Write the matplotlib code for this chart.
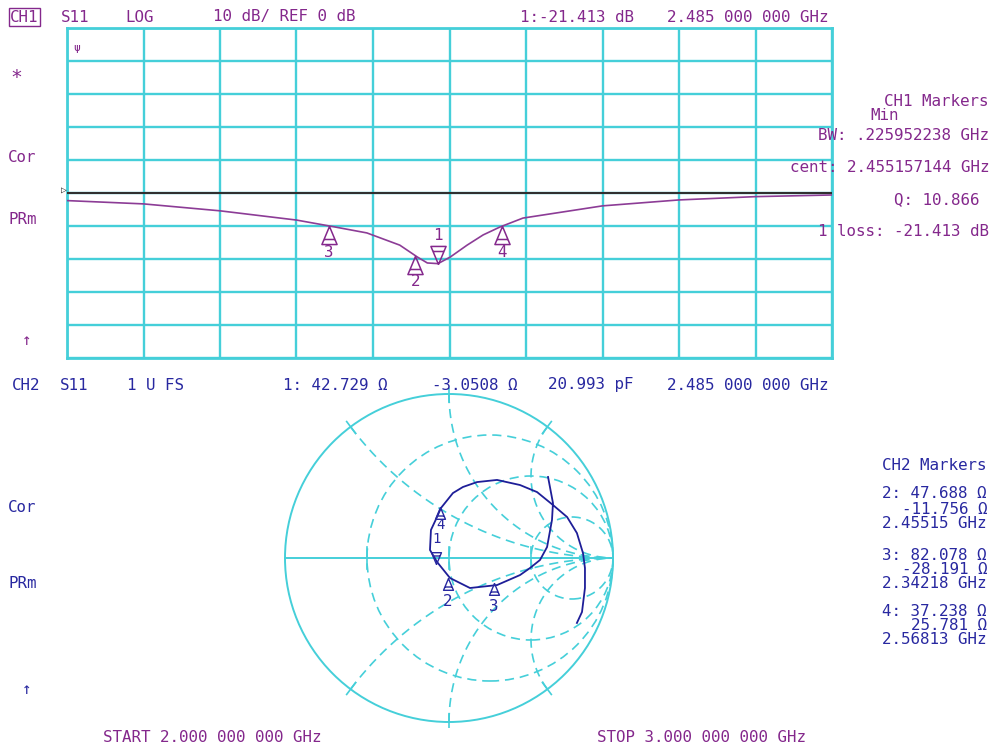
import numpy as np
import matplotlib
matplotlib.use("Agg")
import matplotlib.pyplot as plt
from matplotlib.path import Path
from matplotlib.patches import Circle

# ---- style tokens ----
CYAN, PURPLE, PTRACE, BLUE, NAVY, REF = "#45cfd9", "#84288c", "#8c3c96", "#2828a0", "#1e1e98", "#303030"
FONT = ["DejaVu Sans Mono", "DejaVu Sans"]
FS = 11.4
W, H = 993, 746

# ---- CH1: S11 log magnitude (GHz, dB) ----
freq = [2.0, 2.1, 2.2, 2.3, 2.348, 2.392, 2.435, 2.458, 2.471, 2.485, 2.501,
        2.523, 2.544, 2.566, 2.596, 2.7, 2.8, 2.9, 3.0]
s11_db = [-2.3, -3.3, -5.4, -8.2, -10.2, -12.1, -15.8, -19.4, -21.2, -21.4, -19.4,
          -15.8, -12.7, -10.3, -7.6, -3.9, -2.1, -1.1, -0.6]

# ---- markers (GHz, ohm readouts) ----
mk_id = ["1", "2", "3", "4"]
mk_freq = [2.485, 2.45515, 2.34218, 2.56813]
mk_r = [42.729, 47.688, 82.078, 37.238]
mk_x = [-3.0508, -11.756, -28.191, 25.781]

# ---- CH2: S11 Smith trace, reflection coefficient ----
g_re = [0.604, 0.634, 0.628, 0.598, 0.555, 0.494, 0.433, 0.293, 0.128, 0.006, -0.073,
        -0.116, -0.110, -0.073, -0.049, 0.024, 0.085, 0.171, 0.293, 0.433, 0.537,
        0.634, 0.720, 0.780, 0.817, 0.829, 0.829, 0.811, 0.780]
g_im = [0.494, 0.335, 0.232, 0.067, -0.012, -0.061, -0.104, -0.165, -0.183, -0.122, -0.024,
        0.049, 0.171, 0.250, 0.305, 0.396, 0.433, 0.463, 0.476, 0.445, 0.402,
        0.323, 0.250, 0.152, 0.030, -0.061, -0.183, -0.329, -0.396]

plt.rcParams["font.family"] = FONT
fig = plt.figure(figsize=(W / 100, H / 100), dpi=100)
fig.patch.set_facecolor("white")


def txt(x, y, s, color, ha="left", size=FS, **kw):
    fig.text(x / W, 1 - y / H, s, ha=ha, va="center", color=color, size=size, **kw)


def tri(up=True):
    v = [(0, 0), (-0.42, -1), (0.42, -1), (0, 0), (-0.3, -0.72), (0.3, -0.72)]
    if not up:
        v = [(a, -b) for a, b in v]
    c = [Path.MOVETO, Path.LINETO, Path.LINETO, Path.LINETO, Path.MOVETO, Path.LINETO]
    return Path(v, c)


# 1. log magnitude panel -------------------------------------------------------
ax1 = fig.add_axes([67 / W, 1 - 358 / H, 765 / W, 330 / H])
ax1.set_xlim(2, 3); ax1.set_ylim(-50, 50)
ax1.set_xticks(np.linspace(2, 3, 11)); ax1.set_yticks(np.arange(-50, 51, 10))
ax1.tick_params(length=0, labelbottom=False, labelleft=False)
ax1.grid(True, color=CYAN, lw=1.7)
for s in ax1.spines.values():
    s.set_color(CYAN); s.set_linewidth(2)
ax1.axhline(0, color=REF, lw=1.5, zorder=3)
ax1.plot(freq, s11_db, color=PTRACE, lw=1.2, zorder=4)
mk_db = [-21.413] + [float(np.interp(f, freq, s11_db)) for f in mk_freq[1:]]
for i, (f, d) in enumerate(zip(mk_freq, mk_db)):
    up = i != 0
    ax1.plot(f, d, marker=tri(up), ms=26, mfc="none", mec=PURPLE, mew=1.1, zorder=5)
    ax1.annotate(mk_id[i], (f, d), xytext=(0, -19 if up else 20), textcoords="offset points",
                 ha="center", va="center", color=PURPLE, size=FS)
ax1.text(2.012, 44, "ψ", color=PURPLE, size=8, ha="center", va="center")

# 2. Smith chart panel ---------------------------------------------------------
lim = 170 / 164
ax2 = fig.add_axes([279 / W, 1 - 728 / H, 340 / W, 340 / H])
ax2.set_xlim(-lim, lim); ax2.set_ylim(-lim, lim); ax2.axis("off")
ax2.add_patch(Circle((0, 0), 1, fill=False, ec=CYAN, lw=1.4))
ax2.plot([-1, 1], [0, 0], color=CYAN, lw=1.4)
dash = (0, (5.5, 3.5))
for r in (1 / 3, 1, 3):
    ax2.add_patch(Circle((r / (1 + r), 0), 1 / (1 + r), fill=False, ec=CYAN, lw=1.2, ls=dash))
    g0 = (r - 1) / (r + 1)
    ax2.plot([g0, g0], [-0.07, 0.07], color=CYAN, lw=1.2)
rr = np.concatenate([[0], np.geomspace(0.005, 300, 500)])
for xv in (0.5, 1, 2, -0.5, -1, -2):
    g = (rr + 1j * xv - 1) / (rr + 1j * xv + 1)
    ax2.plot(g.real, g.imag, color=CYAN, lw=1.2, ls=dash)
    e = g[0]
    ax2.plot([0.95 * e.real, 1.04 * e.real], [0.95 * e.imag, 1.04 * e.imag], color=CYAN, lw=1.2)
ax2.plot(g_re, g_im, color=NAVY, lw=1.3, zorder=4)
zm = (np.array(mk_r) + 1j * np.array(mk_x)) / 50
gm = (zm - 1) / (zm + 1)
offs = [18, -17, -17, -13]
for i, g in enumerate(gm):
    up = i != 0
    ax2.plot(g.real, g.imag, marker=tri(up), ms=17, mfc="none", mec=BLUE, mew=1.0, zorder=5)
    ax2.annotate(mk_id[i], (g.real, g.imag), xytext=(0, offs[i]), textcoords="offset points",
                 ha="center", va="center", color=BLUE, size=10 if i in (0, 3) else FS)

# 3. annotation text -----------------------------------------------------------
txt(10, 17, "CH1", PURPLE, bbox=dict(boxstyle="square,pad=0.08", fc="none", ec=PURPLE, lw=1))
txt(61, 17, "S11", PURPLE)
txt(125, 17, "LOG", PURPLE)
txt(213, 17, "10 dB/ REF 0 dB", PURPLE)
txt(520, 17, "1:-21.413 dB", PURPLE)
txt(667, 17, "2.485 000 000 GHz", PURPLE)
txt(10, 77, "*", PURPLE, size=14)
txt(8, 157, "Cor", PURPLE)
txt(8, 220, "PRm", PURPLE)
txt(22, 340, "↑", PURPLE)
txt(61, 190, "▷", REF, size=7)

txt(988, 102, "CH1 Markers", PURPLE, ha="right")
txt(870, 115, "Min", PURPLE)
txt(989, 135, "BW: .225952238 GHz", PURPLE, ha="right")
txt(989, 167, "cent: 2.455157144 GHz", PURPLE, ha="right")
txt(979, 200, "Q: 10.866", PURPLE, ha="right")
txt(989, 232, "1 loss: -21.413 dB", PURPLE, ha="right")

txt(12, 385, "CH2", BLUE)
txt(60, 385, "S11", BLUE)
txt(127, 385, "1 U FS", BLUE)
txt(283, 385, "1: 42.729 Ω", BLUE)
txt(432, 385, "-3.0508 Ω", BLUE)
txt(548, 385, "20.993 pF", BLUE)
txt(667, 385, "2.485 000 000 GHz", BLUE)
txt(8, 508, "Cor", BLUE)
txt(8, 583, "PRm", BLUE)
txt(22, 690, "↑", BLUE)

txt(986, 465, "CH2 Markers", BLUE, ha="right")
rows = [(494, "2: 47.688 Ω"), (510, "-11.756 Ω"), (524, "2.45515 GHz"),
        (555, "3: 82.078 Ω"), (569, "-28.191 Ω"), (583, "2.34218 GHz"),
        (612, "4: 37.238 Ω"), (626, "25.781 Ω"), (640, "2.56813 GHz")]
for y, s in rows:
    txt(987, y, s, BLUE, ha="right")

txt(103, 737, "START 2.000 000 000 GHz", PURPLE)
txt(597, 737, "STOP 3.000 000 000 GHz", PURPLE)

fig.savefig("out.png", dpi=100, facecolor="white")
